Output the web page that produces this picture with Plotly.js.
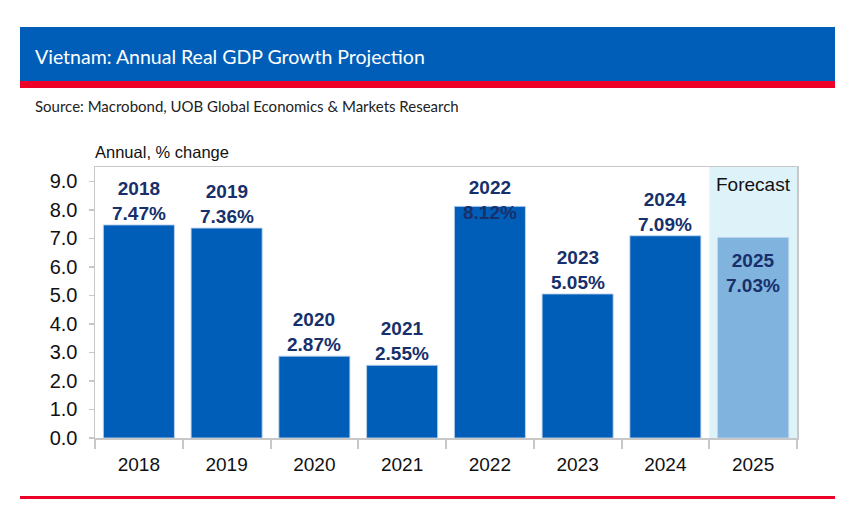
<!DOCTYPE html>
<html>
<head>
<meta charset="utf-8">
<script src="https://cdn.plot.ly/plotly-3.0.1.min.js"></script>
<style>html,body{margin:0;padding:0;background:#fff;}#chart{width:850px;height:514px;}</style>
</head>
<body>
<div id="chart"></div>
<script>
const years = ['2018','2019','2020','2021','2022','2023','2024','2025'];
const growth = [7.47, 7.36, 2.87, 2.55, 8.12, 5.05, 7.09, 7.03];
const forecastYears = ['2025'];
const yTicks = [0,1,2,3,4,5,6,7,8,9];

const W = 850, H = 514;
const M = {l:95, r:53, t:167, b:76};
const PW = W - M.l - M.r, PH = H - M.t - M.b;
const px = x => (x - M.l) / PW;
const py = y => (H - M.b - y) / PH;

const BLUE = 'rgb(0,94,184)';
const LIGHT = 'rgb(128,179,221)';
const RED = 'rgb(236,0,40)';
const NAVY = '#17306b';

const colors = years.map(y => forecastYears.includes(y) ? LIGHT : BLUE);

const trace = {
  type: 'bar',
  x: years,
  y: growth,
  marker: {color: colors, line: {color: 'rgba(190,212,238,0.9)', width: 1}},
  hoverinfo: 'skip'
};

const labelCap = 7.5;
const annotations = [];
years.forEach((yr, i) => {
  const v = growth[i];
  const txt = '<b>' + yr + '<br>' + v.toFixed(2) + '%</b>';
  if (forecastYears.includes(yr)) {
    annotations.push({x: i, y: v, xref: 'x', yref: 'y', text: txt, showarrow: false,
      yanchor: 'top', yshift: -11, font: {family: 'Liberation Sans, Arial', size: 19, color: NAVY}});
  } else {
    annotations.push({x: i, y: Math.min(v, labelCap), xref: 'x', yref: 'y', text: txt, showarrow: false,
      yanchor: 'bottom', yshift: -1, font: {family: 'Liberation Sans, Arial', size: 19, color: NAVY}});
  }
});

const fIdx = years.indexOf(forecastYears[0]);
const n = years.length;

annotations.push({xref: 'paper', yref: 'paper', x: px(33), y: py(56), xanchor: 'left', yanchor: 'middle',
  text: 'Vietnam: Annual Real GDP Growth Projection', showarrow: false,
  font: {family: 'Lato, Open Sans', size: 19.5, color: '#ffffff'}});
annotations.push({xref: 'paper', yref: 'paper', x: px(33), y: py(106), xanchor: 'left', yanchor: 'middle',
  text: 'Source: Macrobond, UOB Global Economics & Markets Research', showarrow: false,
  font: {family: 'Lato, Open Sans', size: 15, color: '#222222'}});
annotations.push({xref: 'paper', yref: 'paper', x: px(93), y: py(152), xanchor: 'left', yanchor: 'middle',
  text: 'Annual, % change', showarrow: false,
  font: {family: 'Liberation Sans, Arial', size: 16.5, color: '#111111'}});
annotations.push({xref: 'paper', yref: 'paper', x: (fIdx + 0.5) / n, y: py(184), xanchor: 'center', yanchor: 'middle',
  text: 'Forecast', showarrow: false,
  font: {family: 'Liberation Sans, Arial', size: 19, color: '#111111'}});

const shapes = [
  {type: 'rect', xref: 'paper', yref: 'paper', x0: fIdx / n, x1: (fIdx + 1) / n,
   y0: 0, y1: 1, fillcolor: 'rgb(222,242,250)', line: {width: 0}, layer: 'below'},
  {type: 'rect', xref: 'paper', yref: 'paper', x0: px(20), x1: px(835), y0: py(81), y1: py(27),
   fillcolor: BLUE, line: {width: 0}, layer: 'above'},
  {type: 'rect', xref: 'paper', yref: 'paper', x0: px(20), x1: px(835), y0: py(88), y1: py(81),
   fillcolor: RED, line: {width: 0}, layer: 'above'},
  {type: 'rect', xref: 'paper', yref: 'paper', x0: px(20), x1: px(835), y0: py(499), y1: py(496),
   fillcolor: RED, line: {width: 0}, layer: 'above'}
];

const layout = {
  width: W, height: H,
  margin: M,
  paper_bgcolor: '#ffffff', plot_bgcolor: '#ffffff',
  showlegend: false,
  bargap: 0.19,
  font: {family: 'Liberation Sans, Arial', size: 18, color: '#111'},
  xaxis: {type: 'category', categoryorder: 'array', categoryarray: years, range: [-0.5, n - 0.5],
    showline: true, linecolor: '#c8c8c8', linewidth: 1.5, mirror: true,
    ticks: 'outside', tickson: 'boundaries', ticklen: 9, tickcolor: '#c8c8c8', tickwidth: 2,
    ticklabelstandoff: 9,
    tickangle: 0, tickfont: {size: 19, color: '#111'}, showgrid: false, fixedrange: true},
  yaxis: {range: [0, 9.5], tickvals: yTicks, ticktext: yTicks.map(t => t.toFixed(1)),
    showline: true, linecolor: '#c8c8c8', linewidth: 1.5, mirror: true,
    ticks: 'outside', ticklen: 5, tickcolor: '#c8c8c8', tickwidth: 1.5,
    ticklabelstandoff: 7,
    tickfont: {size: 20, color: '#111'}, showgrid: false, zeroline: false, fixedrange: true},
  shapes: shapes,
  annotations: annotations
};

Plotly.newPlot('chart', [trace], layout, {displayModeBar: false, staticPlot: true});
</script>
</body>
</html>
